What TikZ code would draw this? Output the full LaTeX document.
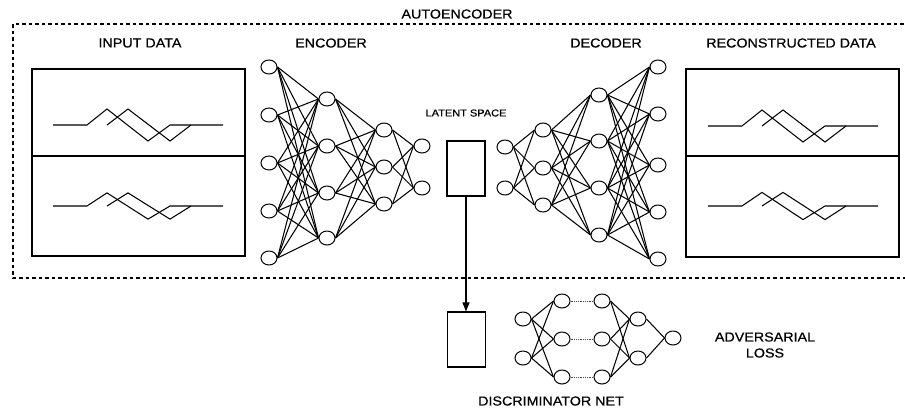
\documentclass[tikz,border=0pt]{standalone}
\usepackage{fontspec}
\setmainfont{Liberation Sans}[FakeStretch=1.1, FakeBold=0.6]
\usepackage{tikz}
\usetikzlibrary{positioning,arrows}
\usetikzlibrary{shapes}
\usetikzlibrary{arrows.meta}

\tikzset{
  neuron/.style={ellipse, draw, line width=1bp, minimum width=16bp, minimum height=14bp, inner sep=0pt},
  latbox/.style={rectangle, draw, line width=1.1bp, minimum width=38bp, minimum height=55bp, inner sep=0pt},
  wave/.pic={
    \draw (0,0) -- (34,0) -- (54,-16) -- (95,16) -- (117,0) -- (170,0);
    \draw (54,0) -- (75,-16) -- (117,16) -- (138,0);
  }
}

\begin{document}
\begin{tikzpicture}[x=1bp, y=-1bp, line width=1.05bp]
	\tikzstyle{every node}=[font=\fontsize{13bp}{16bp}\selectfont, inner sep=0pt]
	\useasboundingbox (0,0) rectangle (905,411);
	% autoencoder frame
	\draw [line width=1.4bp, dash pattern=on 3.5bp off 3bp] (910,24) -- (13,24) -- (13,278) -- (910,278);
	\draw (457,14) node (tae) {AUTOENCODER};
	\draw (140,43) node (tin) {INPUT DATA};
	\draw (331,43) node (tenc) {ENCODER};
	\draw (606,43) node (tdec) {DECODER};
	\draw (791,43) node (trec) {RECONSTRUCTED DATA};
	\draw (466,113) node (tlat) [font=\fontsize{10bp}{12bp}\selectfont] {LATENT SPACE};
	% data panels
	\draw [line width=1.5bp] (32,69) rectangle (245,256);
	\draw [line width=1.5bp] (32,156) -- (245,156);
	\pic at (53,125) {wave};
	\pic [yscale=0.82] at (53,206) {wave};
	\draw [line width=1.5bp] (686,69) rectangle (899,257);
	\draw [line width=1.5bp] (686,156) -- (899,156);
	\pic at (708,126) {wave};
	\pic [yscale=0.85] at (708,206) {wave};
	% encoder
	\foreach \y [count=\i] in {67,115,163,211,258} \draw (269,\y) node[neuron] (e1-\i) {};
	\foreach \y [count=\i] in {99,146,193,238} \draw (327,\y) node[neuron] (e2-\i) {};
	\foreach \y [count=\i] in {130,167,204} \draw (384,\y) node[neuron] (e3-\i) {};
	\foreach \y [count=\i] in {146,188} \draw (422,\y) node[neuron] (e4-\i) {};
	\foreach \a in {1,...,5} \foreach \b in {1,...,4} \draw (e1-\a.east) -- (e2-\b.west);
	\foreach \a in {1,...,4} \foreach \b in {1,...,3} \draw (e2-\a.east) -- (e3-\b.west);
	\foreach \a in {1,...,3} \foreach \b in {1,2} \draw (e3-\a.east) -- (e4-\b.west);
	% latent space
	\draw (466,168.5) node[latbox] (lat) {};
	% decoder
	\foreach \y [count=\i] in {147,188} \draw (505,\y) node[neuron] (d1-\i) {};
	\foreach \y [count=\i] in {130,168,205} \draw (543,\y) node[neuron] (d2-\i) {};
	\foreach \y [count=\i] in {95,141,188,235} \draw (599,\y) node[neuron] (d3-\i) {};
	\foreach \y [count=\i] in {67,114,165,212,259} \draw (658,\y) node[neuron] (d4-\i) {};
	\foreach \a in {1,2} \foreach \b in {1,...,3} \draw (d1-\a.east) -- (d2-\b.west);
	\foreach \a in {1,...,3} \foreach \b in {1,...,4} \draw (d2-\a.east) -- (d3-\b.west);
	\foreach \a in {1,...,4} \foreach \b in {1,...,5} \draw (d3-\a.east) -- (d4-\b.west);
	% discriminator
	\draw (466.5,339.5) node[latbox] (dbox) {};
	\draw [-{Triangle[width=7bp,length=9bp]}] (lat.south) -- (lat.south |- dbox.north);
	\foreach \y [count=\i] in {319,358} \draw (523,\y) node[neuron] (n1-\i) {};
	\foreach \y [count=\i] in {301,339,377} \draw (562,\y) node[neuron] (n2-\i) {};
	\foreach \y [count=\i] in {301,339,377} \draw (602,\y) node[neuron] (n3-\i) {};
	\foreach \y [count=\i] in {319,358} \draw (638,\y) node[neuron] (n4-\i) {};
	\draw (673,338) node[neuron] (n5) {};
	\foreach \a in {1,2} \foreach \b in {1,...,3} \draw (n1-\a.east) -- (n2-\b.west);
	\foreach \i in {1,...,3} \draw [gray!60!black, line width=0.8bp, dash pattern=on 1bp off 0.8bp] (n2-\i.east) -- (n3-\i.west);
	\foreach \a in {1,...,3} \foreach \b in {1,2} \draw (n3-\a.east) -- (n4-\b.west);
	\foreach \a in {1,2} \draw (n4-\a.east) -- (n5.west);
	\draw (765,345) node (tadv) [align=center] {ADVERSARIAL\\LOSS};
	\draw (551,401) node (tdis) {DISCRIMINATOR NET};
\end{tikzpicture}
\end{document}
